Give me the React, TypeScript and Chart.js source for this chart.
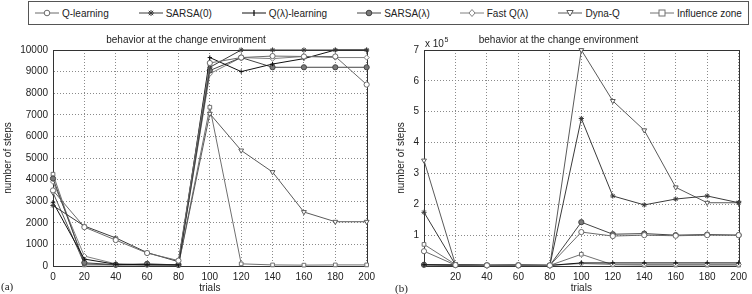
import React, { useEffect, useRef } from 'react';
import { Chart, registerables } from 'chart.js';
Chart.register(...registerables);

const FONT = "'Liberation Sans', Arial, Helvetica, sans-serif";

// ---- data ----
const trials = [0, 20, 40, 60, 80, 100, 120, 140, 160, 180, 200];
const seriesNames = ['Q-learning', 'SARSA(0)', 'Q(λ)-learning', 'SARSA(λ)', 'Fast Q(λ)', 'Dyna-Q', 'Influence zone'];

// panel (a): number of steps
const qLearningA = [3500, 1800, 1200, 600, 250, 9400, 9650, 9720, 9700, 9700, 8400];
const sarsa0A = [2800, 1850, 1300, 620, 200, 9200, 10000, 10000, 10000, 10000, 10000];
const qLambdaA = [2950, 320, 80, 60, 50, 9650, 9000, 9350, 9600, 10000, 10000];
const sarsaLambdaA = [4050, 150, 60, 100, 50, 9050, 9650, 9200, 9200, 9200, 9200];
const fastQLambdaA = [3900, 460, 100, 50, 60, 8900, 9650, 9600, 9700, 9650, 9650];
const dynaQA = [3400, 100, 50, 60, 50, 7050, 5350, 4350, 2500, 2050, 2050];
const influenceZoneA = [4250, 50, 50, 50, 50, 7350, 100, 50, 40, 50, 50];

// panel (b): number of steps, in units of 10^5
const qLearningB = [0.48, 0.03, 0.02, 0.02, 0.02, 1.1, 0.97, 1.0, 0.98, 1.0, 1.0];
const sarsa0B = [1.74, 0.04, 0.02, 0.03, 0.02, 4.78, 2.27, 1.98, 2.17, 2.27, 2.05];
const qLambdaB = [0.04, 0.03, 0.02, 0.02, 0.02, 0.1, 0.1, 0.1, 0.1, 0.1, 0.1];
const sarsaLambdaB = [0.04, 0.03, 0.02, 0.02, 0.02, 1.42, 1.03, 1.05, 1.0, 1.02, 1.0];
const fastQLambdaB = [0.04, 0.03, 0.02, 0.02, 0.02, 0.08, 0.05, 0.05, 0.05, 0.05, 0.05];
const dynaQB = [3.42, 0.05, 0.02, 0.03, 0.02, 7.0, 5.35, 4.4, 2.55, 2.05, 2.05];
const influenceZoneB = [0.7, 0.05, 0.03, 0.03, 0.02, 0.38, 0.04, 0.03, 0.03, 0.03, 0.03];

const xTicksA = [0, 20, 40, 60, 80, 100, 120, 140, 160, 180, 200];
const yTicksA = [0, 1000, 2000, 3000, 4000, 5000, 6000, 7000, 8000, 9000, 10000];
const xTicksB = [20, 40, 60, 80, 100, 120, 140, 160, 180, 200];
const yTicksB = [1, 2, 3, 4, 5, 6, 7];

const titleText = 'behavior at the change environment';

// ---- styles ----
const styles = [
  { color: '#6a6a6a', pointStyle: 'circle', fill: '#ffffff', radius: 2.6, rotation: 0 },
  { color: '#3a3a3a', pointStyle: 'star', fill: '#3a3a3a', radius: 2.6, rotation: 0 },
  { color: '#111111', pointStyle: 'cross', fill: '#111111', radius: 2.2, rotation: 0 },
  { color: '#444444', pointStyle: 'circle', fill: '#7a7a7a', radius: 2.6, rotation: 0 },
  { color: '#808080', pointStyle: 'rectRot', fill: '#ffffff', radius: 2.6, rotation: 0 },
  { color: '#5a5a5a', pointStyle: 'triangle', fill: '#ffffff', radius: 2.8, rotation: 180 },
  { color: '#707070', pointStyle: 'rect', fill: '#ffffff', radius: 2.6, rotation: 0 },
];

function datasets(values: number[][]) {
  return values.map((v, i) => ({
    label: seriesNames[i],
    data: v.map((y, j) => ({ x: trials[j], y })),
    borderColor: styles[i].color,
    backgroundColor: styles[i].fill,
    pointBorderColor: styles[i].color,
    pointBackgroundColor: styles[i].fill,
    pointStyle: styles[i].pointStyle as any,
    pointRadius: styles[i].radius,
    pointRotation: styles[i].rotation,
    pointBorderWidth: 1,
    borderWidth: 1,
    tension: 0,
    clip: 6,
  }));
}

const framePlugin = {
  id: 'frame',
  beforeDatasetsDraw(chart: any) {
    const { ctx, chartArea: a } = chart;
    ctx.save();
    ctx.strokeStyle = '#333';
    ctx.lineWidth = 1;
    ctx.strokeRect(Math.round(a.left) + 0.5, Math.round(a.top) + 0.5, Math.round(a.right - a.left), Math.round(a.bottom - a.top));
    ctx.restore();
  },
};

const exponentPlugin = {
  id: 'exponent',
  afterDraw(chart: any) {
    const { ctx, chartArea: a } = chart;
    ctx.save();
    ctx.fillStyle = '#222';
    ctx.textBaseline = 'alphabetic';
    ctx.textAlign = 'left';
    ctx.font = `10px ${FONT}`;
    const base = 'x 10';
    ctx.fillText(base, a.left + 1, a.top - 3);
    const w = ctx.measureText(base).width;
    ctx.font = `7px ${FONT}`;
    ctx.fillText('5', a.left + 1 + w + 0.5, a.top - 8);
    ctx.restore();
  },
};

function makeConfig(values: number[][], yMax: number, xTicks: number[], yTicks: number[], yWidth: number, yTitlePad: number, padRight: number, exp: boolean) {
  const tickFont = { family: FONT, size: 10 };
  return {
    type: 'line' as const,
    data: { datasets: datasets(values) },
    plugins: exp ? [framePlugin, exponentPlugin] : [framePlugin],
    options: {
      animation: false as const,
      responsive: false,
      devicePixelRatio: 1,
      layout: { padding: { left: 0, right: padRight, top: 0, bottom: 0 } },
      plugins: {
        legend: { display: false },
        tooltip: { enabled: false },
        title: {
          display: true,
          text: titleText,
          color: '#222',
          font: { family: FONT, size: 10, weight: 'normal' as const },
          padding: { top: 6, bottom: 4 },
        },
      },
      scales: {
        x: {
          type: 'linear' as const,
          min: 0,
          max: 200,
          afterBuildTicks: (s: any) => { s.ticks = trials.map((v) => ({ value: v })); },
          afterFit: (s: any) => { s.height = 28; },
          ticks: {
            color: '#222',
            font: tickFont,
            padding: 5,
            maxRotation: 0,
            autoSkip: false,
            callback: (v: any) => (xTicks.includes(Number(v)) ? String(v) : ''),
          },
          grid: { color: '#8a8a8a', drawTicks: false, lineWidth: 1 },
          border: { display: true, color: '#333', dash: [1, 2] },
          title: { display: true, text: 'trials', color: '#222', font: tickFont, padding: { top: 0, bottom: 0 } },
        },
        y: {
          type: 'linear' as const,
          min: 0,
          max: yMax,
          afterBuildTicks: (s: any) => {
            const step = yMax / 10 >= 1000 ? 1000 : 1;
            const arr: any[] = [];
            for (let v = 0; v <= yMax + 1e-9; v += step) arr.push({ value: v });
            s.ticks = arr;
          },
          afterFit: (s: any) => { s.width = yWidth; },
          ticks: {
            color: '#222',
            font: tickFont,
            padding: 5,
            autoSkip: false,
            callback: (v: any) => (yTicks.includes(Number(v)) ? String(v) : ''),
          },
          grid: { color: '#8a8a8a', drawTicks: false, lineWidth: 1 },
          border: { display: true, color: '#333', dash: [1, 2] },
          title: { display: true, text: 'number of steps', color: '#222', font: tickFont, padding: { top: yTitlePad, bottom: 0 } },
        },
      },
    },
  };
}

function Marker({ i }: { i: number }) {
  const s = styles[i];
  const c = s.color;
  const cx = 12, cy = 6;
  let shape: any = null;
  if (s.pointStyle === 'circle') shape = <circle cx={cx} cy={cy} r={2.8} fill={s.fill} stroke={c} />;
  else if (s.pointStyle === 'star')
    shape = (
      <g stroke={c}>
        <line x1={cx - 3} y1={cy} x2={cx + 3} y2={cy} />
        <line x1={cx} y1={cy - 3} x2={cx} y2={cy + 3} />
        <line x1={cx - 2.2} y1={cy - 2.2} x2={cx + 2.2} y2={cy + 2.2} />
        <line x1={cx - 2.2} y1={cy + 2.2} x2={cx + 2.2} y2={cy - 2.2} />
      </g>
    );
  else if (s.pointStyle === 'cross')
    shape = (
      <g stroke={c} strokeWidth={1.3}>
        <line x1={cx} y1={cy - 3} x2={cx} y2={cy + 3} />
      </g>
    );
  else if (s.pointStyle === 'rectRot') shape = <polygon points={`${cx},${cy - 3.5} ${cx + 3},${cy} ${cx},${cy + 3.5} ${cx - 3},${cy}`} fill={s.fill} stroke={c} />;
  else if (s.pointStyle === 'triangle') shape = <polygon points={`${cx - 3.2},${cy - 2.5} ${cx + 3.2},${cy - 2.5} ${cx},${cy + 3}`} fill={s.fill} stroke={c} />;
  else if (s.pointStyle === 'rect') shape = <rect x={cx - 3} y={cy - 3} width={6} height={6} fill={s.fill} stroke={c} />;
  return (
    <svg width={24} height={12} style={{ display: 'block', marginRight: 3 }}>
      <line x1={0} y1={cy} x2={24} y2={cy} stroke={c} strokeWidth={1} />
      {shape}
    </svg>
  );
}

export default function App() {
  const refA = useRef<HTMLCanvasElement>(null);
  const refB = useRef<HTMLCanvasElement>(null);

  useEffect(() => {
    const a = new Chart(
      refA.current as HTMLCanvasElement,
      makeConfig([qLearningA, sarsa0A, qLambdaA, sarsaLambdaA, fastQLambdaA, dynaQA, influenceZoneA], 10000, xTicksA, yTicksA, 53, 2, 8, false) as any
    );
    const b = new Chart(
      refB.current as HTMLCanvasElement,
      makeConfig([qLearningB, sarsa0B, qLambdaB, sarsaLambdaB, fastQLambdaB, dynaQB, influenceZoneB], 7, xTicksB, yTicksB, 48, 19, 11, true) as any
    );
    return () => {
      a.destroy();
      b.destroy();
    };
  }, []);

  return (
    <div style={{ position: 'absolute', left: 0, top: 0, width: 752, height: 294, background: '#fff', overflow: 'hidden', fontFamily: FONT }}>
      <div
        style={{
          position: 'absolute', left: 28, top: 1, width: 721, height: 24, border: '1px solid #555',
          display: 'flex', alignItems: 'center', justifyContent: 'space-between', padding: '0 6px', boxSizing: 'border-box',
          fontSize: 10, color: '#222',
        }}
      >
        {seriesNames.map((n, i) => (
          <div key={n} style={{ display: 'flex', alignItems: 'center', whiteSpace: 'nowrap' }}>
            <Marker i={i} />
            <span>{n}</span>
          </div>
        ))}
      </div>
      <canvas ref={refA} width={380} height={266} style={{ position: 'absolute', left: 0, top: 28, width: 380, height: 266 }} />
      <canvas ref={refB} width={376} height={266} style={{ position: 'absolute', left: 376, top: 28, width: 376, height: 266 }} />
      <div style={{ position: 'absolute', left: 1, top: 280, fontFamily: "'Liberation Serif', serif", fontSize: 11, color: '#222' }}>(a)</div>
      <div style={{ position: 'absolute', left: 395, top: 282, fontFamily: "'Liberation Serif', serif", fontSize: 11, color: '#222' }}>(b)</div>
    </div>
  );
}
